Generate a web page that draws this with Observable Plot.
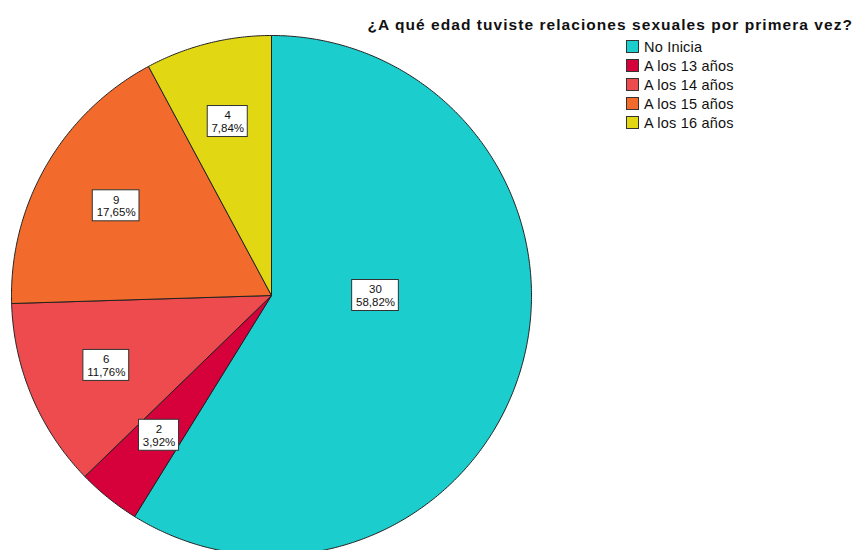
<!DOCTYPE html>
<html>
<head>
<meta charset="utf-8">
<script src="https://cdn.jsdelivr.net/npm/d3@7"></script>
<script src="https://cdn.jsdelivr.net/npm/@observablehq/plot@0.6"></script>
<style>
  body { margin: 0; background: #fff; font-family: "Liberation Sans", Arial, sans-serif; }
  #wrap { position: relative; width: 859px; height: 550px; overflow: hidden; }
  #title { position: absolute; right: 6px; top: 16px; font-weight: bold; font-size: 15.5px; letter-spacing: 1.05px; color: #111; white-space: nowrap; }
  #legend { position: absolute; left: 626px; top: 37px; }
  .row { display: flex; align-items: center; height: 19px; font-size: 14.5px; letter-spacing: 0.2px; color: #111; }
  .sw { width: 11px; height: 11px; border: 1px solid #333; margin-right: 5px; box-sizing: content-box; }
</style>
</head>
<body>
<div id="wrap">
  <div id="chart"></div>
  <div id="title">¿A qué edad tuviste relaciones sexuales por primera vez?</div>
  <div id="legend"></div>
</div>
<script>
const categories = ["No Inicia", "A los 13 años", "A los 14 años", "A los 15 años", "A los 16 años"];
const counts = [30, 2, 6, 9, 4];
const colors = ["#1ccdcd", "#d6003a", "#ee4b4f", "#f36b2c", "#e2d713"];

const total = d3.sum(counts);
const R = 260; // pixel radius
const fmtPct = v => (v * 100).toFixed(2).replace(".", ",") + "%";

// slice geometry in unit-circle coordinates (angle clockwise from 12 o'clock)
const slices = [];
let acc = 0;
categories.forEach((c, i) => {
  const a0 = acc / total * 2 * Math.PI;
  acc += counts[i];
  const a1 = acc / total * 2 * Math.PI;
  slices.push({category: c, count: counts[i], pct: fmtPct(counts[i] / total), a0, a1});
});

const polyPts = [];
slices.forEach(s => {
  polyPts.push({category: s.category, x: 0, y: 0});
  const n = Math.max(2, Math.ceil((s.a1 - s.a0) / (Math.PI / 360)));
  for (let k = 0; k <= n; k++) {
    const a = s.a0 + (s.a1 - s.a0) * k / n;
    polyPts.push({category: s.category, x: Math.sin(a), y: Math.cos(a)});
  }
  polyPts.push({category: s.category, x: 0, y: 0});
});

// label placement
const ctx = document.createElement("canvas").getContext("2d");
ctx.font = "12px 'Liberation Sans'";
const labels = slices.map(s => {
  const mid = (s.a0 + s.a1) / 2;
  const big = (s.a1 - s.a0) > Math.PI;
  const ang = big ? Math.round(mid / (Math.PI / 2)) * (Math.PI / 2) : mid;
  const rr = big ? 0.4 : 0.69;
  const x = rr * Math.sin(ang), y = rr * Math.cos(ang);
  const w = Math.max(ctx.measureText(s.pct).width, ctx.measureText(String(s.count)).width) + 6;
  const h = 31;
  return {...s, x, y, text: `${s.count}\n${s.pct}`,
    x1: x - w / 2 / R, x2: x + w / 2 / R, y1: y - h / 2 / R, y2: y + h / 2 / R};
});

const chart = Plot.plot({
  width: 859,
  height: 550,
  margin: 0,
  x: {domain: [-1, 1], range: [11, 531], axis: null},
  y: {domain: [-1, 1], range: [555, 35], axis: null},
  color: {domain: categories, range: colors},
  style: {fontFamily: "'Liberation Sans', Arial, sans-serif", background: "#fff"},
  marks: [
    Plot.line(polyPts, {x: "x", y: "y", z: "category", fill: "category", stroke: "#222", strokeWidth: 1, strokeLinejoin: "round"}),
    Plot.rect(labels, {x1: "x1", x2: "x2", y1: "y1", y2: "y2", fill: "white", stroke: "#333", strokeWidth: 1}),
    Plot.text(labels, {x: "x", y: "y", text: "text", fontSize: 11.5, lineHeight: 1.1, fill: "#111", lineAnchor: "middle"})
  ]
});
document.getElementById("chart").appendChild(chart);

const legend = document.getElementById("legend");
categories.forEach((c, i) => {
  const row = document.createElement("div");
  row.className = "row";
  const sw = document.createElement("div");
  sw.className = "sw";
  sw.style.background = colors[i];
  const t = document.createElement("span");
  t.textContent = c;
  row.appendChild(sw); row.appendChild(t);
  legend.appendChild(row);
});
</script>
</body>
</html>
